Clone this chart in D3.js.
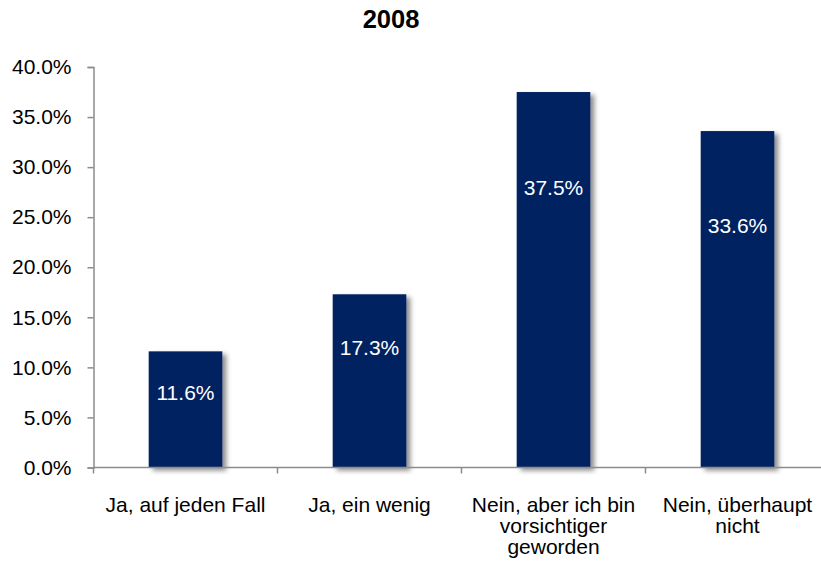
<!DOCTYPE html>
<html>
<head>
<meta charset="utf-8">
<script src="https://cdn.jsdelivr.net/npm/d3@7"></script>
<style>
  html, body { margin: 0; padding: 0; background: #fff; }
  svg { display: block; font-family: "Liberation Sans", Arial, sans-serif; }
</style>
</head>
<body>
<svg id="chart"></svg>
<script>
// chart data
const title = "2008";
const categories = ["Ja, auf jeden Fall", "Ja, ein wenig", "Nein, aber ich bin vorsichtiger geworden", "Nein, überhaupt nicht"];
const categoryLines = [
    ["Ja, auf jeden Fall"],
    ["Ja, ein wenig"],
    ["Nein, aber ich bin", "vorsichtiger", "geworden"],
    ["Nein, überhaupt", "nicht"]
];
const values = [11.6, 17.3, 37.5, 33.6];
const yTicks = [0, 5, 10, 15, 20, 25, 30, 35, 40];

const width = 821;
const height = 563;

const svg = d3.select("#chart")
    .attr("width", width)
    .attr("height", height);

// soft shadow behind the bars
const defs = svg.append("defs");
defs.append("filter")
    .attr("id", "shadow")
    .attr("x", "-20%").attr("y", "-10%")
    .attr("width", "150%").attr("height", "130%")
    .append("feDropShadow")
    .attr("dx", 4)
    .attr("dy", 3)
    .attr("stdDeviation", 2.5)
    .attr("flood-color", "#000")
    .attr("flood-opacity", 0.45);

const x = d3.scaleBand()
    .domain(categories)
    .range([93.5, 829.5])
    .paddingInner(0.6)
    .paddingOuter(0.3);

const y = d3.scaleLinear()
    .domain([0, 40])
    .range([467.5, 67]);

// title
svg.append("text")
    .attr("x", 391)
    .attr("y", 28)
    .attr("text-anchor", "middle")
    .style("font-size", "25.5px")
    .style("font-weight", "bold")
    .text(title);

// bars
svg.selectAll(".bar")
    .data(values)
    .enter()
    .append("rect")
    .attr("class", "bar")
    .attr("x", (d, i) => x(categories[i]))
    .attr("y", d => y(d))
    .attr("width", x.bandwidth())
    .attr("height", d => y(0) - y(d))
    .attr("fill", "#002060")
    .attr("filter", "url(#shadow)");

// y axis
const yAxis = d3.axisLeft(y)
    .tickValues(yTicks)
    .tickSize(6)
    .tickPadding(16)
    .tickFormat(d => d.toFixed(1) + "%");

const gy = svg.append("g")
    .attr("transform", "translate(93.5,0)")
    .call(yAxis);
gy.select(".domain").attr("stroke", "#8c8c8c").attr("stroke-width", 1.5);
gy.selectAll(".tick line").attr("stroke", "#8c8c8c").attr("stroke-width", 1.5);
gy.selectAll(".tick text")
    .style("font-size", "21px")
    .style("font-family", "'Liberation Sans', Arial, sans-serif")
    .attr("fill", "#000");

// x axis: line with ticks between categories
const step = x.step();
const edge0 = x(categories[0]) - (step - x.bandwidth()) / 2;
const gx = svg.append("g");
gx.append("line")
    .attr("x1", 93.5).attr("x2", width)
    .attr("y1", y(0)).attr("y2", y(0))
    .attr("stroke", "#8c8c8c")
    .attr("stroke-width", 1.5);
gx.selectAll(".xtick")
    .data(d3.range(categories.length + 1))
    .enter()
    .append("line")
    .attr("x1", k => edge0 + k * step)
    .attr("x2", k => edge0 + k * step)
    .attr("y1", y(0))
    .attr("y2", y(0) + 6)
    .attr("stroke", "#8c8c8c")
    .attr("stroke-width", 1.5);

// category labels
const cat = svg.selectAll(".cat")
    .data(categoryLines)
    .enter()
    .append("text")
    .attr("class", "cat")
    .attr("text-anchor", "middle")
    .style("font-size", "21px")
    .attr("fill", "#000");
cat.selectAll("tspan")
    .data((d, i) => d.map(t => ({ t, i })))
    .enter()
    .append("tspan")
    .attr("x", d => x(categories[d.i]) + x.bandwidth() / 2)
    .attr("y", (d, j) => 512 + j * 21)
    .text(d => d.t);

// value labels, placed inside the bars at the level used in the source
const labelAt = [7.5, 12.0, 28.0, 24.2];
svg.selectAll(".val")
    .data(values)
    .enter()
    .append("text")
    .attr("class", "val")
    .attr("x", (d, i) => x(categories[i]) + x.bandwidth() / 2)
    .attr("y", (d, i) => y(labelAt[i]))
    .attr("dy", "0.35em")
    .attr("text-anchor", "middle")
    .attr("fill", "#fff")
    .style("font-size", "21px")
    .text(d => d.toFixed(1) + "%");
</script>
</body>
</html>
